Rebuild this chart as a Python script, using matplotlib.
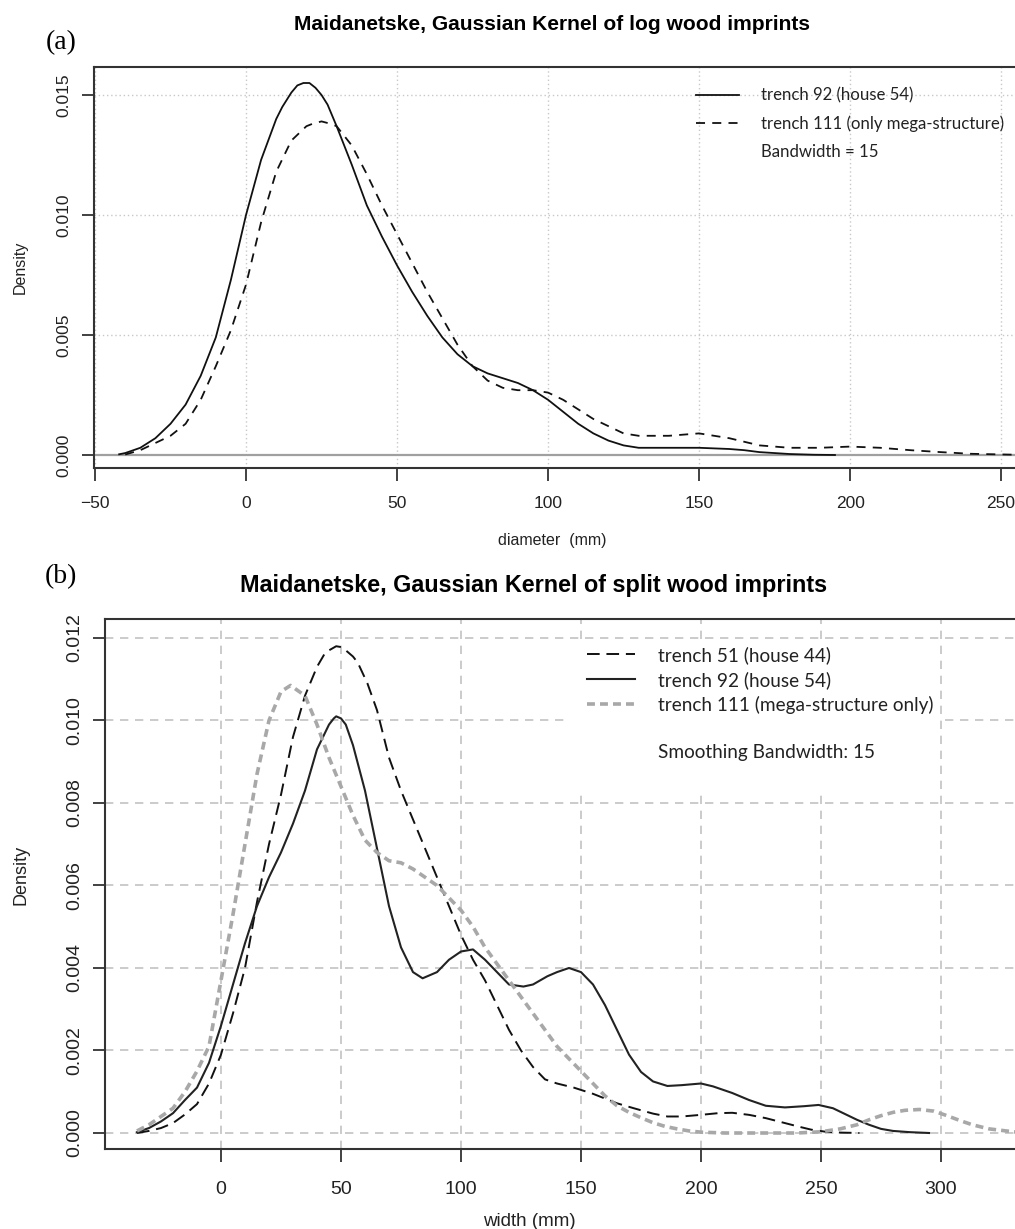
import matplotlib
matplotlib.use('Agg')
import matplotlib.pyplot as plt
from matplotlib import font_manager as fm
from matplotlib.lines import Line2D
from matplotlib.patches import Rectangle


def has_font(name):
    try:
        fm.findfont(name, fallback_to_default=False)
        return True
    except Exception:
        return False


NARROW = 'Liberation Sans Narrow' if has_font('Liberation Sans Narrow') else 'Liberation Sans'
SANS = 'Liberation Sans'
LEG = 'Lato'

# ---- data: panel (a) log wood imprints ----
log_x92 = [-42, -40, -35, -30, -25, -20, -15, -10, -5, 0, 5, 10, 12, 15, 17, 19, 21, 23, 25, 27,
           30, 35, 40, 45, 50, 55, 60, 65, 70, 75, 80, 85, 90, 95, 100, 105, 110, 115, 120, 125,
           130, 140, 150, 160, 165, 170, 180, 188, 195]
log_y92 = [0.00003, 0.00008, 0.0003, 0.0007, 0.0013, 0.0021, 0.0033, 0.0049, 0.0073, 0.0100,
           0.0123, 0.0140, 0.0145, 0.0151, 0.0154, 0.0155, 0.0155, 0.0153, 0.0150, 0.0146,
           0.0137, 0.0121, 0.0104, 0.0091, 0.0079, 0.0068, 0.0058, 0.0049, 0.0042, 0.0037,
           0.0034, 0.0032, 0.0030, 0.0027, 0.0023, 0.0018, 0.0013, 0.0009, 0.0006, 0.0004,
           0.0003, 0.0003, 0.0003, 0.00025, 0.0002, 0.00012, 0.00004, 0.00001, 0.0]

log_x111 = [-40, -35, -30, -25, -20, -15, -10, -5, 0, 5, 10, 15, 20, 22, 25, 28, 30, 35, 40, 45,
            50, 55, 60, 65, 70, 75, 80, 85, 90, 95, 100, 105, 110, 115, 120, 125, 130, 140, 150,
            160, 170, 180, 190, 200, 210, 220, 230, 240, 255]
log_y111 = [0.00002, 0.0002, 0.0005, 0.0008, 0.0013, 0.0023, 0.0037, 0.0052, 0.0071, 0.0097,
            0.0118, 0.0131, 0.0137, 0.0138, 0.0139, 0.0138, 0.0137, 0.0129, 0.0117, 0.0104,
            0.0092, 0.0080, 0.0068, 0.0057, 0.0046, 0.0037, 0.0031, 0.0028, 0.0027, 0.0027,
            0.0026, 0.0023, 0.0019, 0.0015, 0.0012, 0.0009, 0.0008, 0.0008, 0.0009, 0.0007,
            0.0004, 0.0003, 0.0003, 0.00035, 0.0003, 0.0002, 0.00012, 0.00005, 0.00001]

# ---- data: panel (b) split wood imprints ----
split_x51 = [-35, -30, -25, -20, -15, -10, -5, 0, 5, 10, 15, 20, 25, 30, 35, 40, 43, 45, 48, 50,
             52, 55, 57, 61, 65, 70, 75, 80, 85, 90, 95, 100, 105, 110, 115, 120, 125, 130, 135,
             140, 147, 155, 165, 172, 180, 186, 192, 200, 207, 213, 220, 227, 235, 241, 246,
             252, 258, 266]
split_y51 = [0.0, 0.00005, 0.00012, 0.00024, 0.00045, 0.0007, 0.0012, 0.0019, 0.0029, 0.0040,
             0.0056, 0.0070, 0.0082, 0.0096, 0.0106, 0.0113, 0.0116, 0.0117, 0.0118, 0.01178,
             0.0117, 0.01155, 0.0114, 0.0109, 0.01025, 0.0091, 0.0083, 0.0076, 0.0069, 0.0062,
             0.0055, 0.0048, 0.0042, 0.0037, 0.0031, 0.0025, 0.0020, 0.0016, 0.0013, 0.0012,
             0.0011, 0.00095, 0.00072, 0.0006, 0.00047, 0.0004, 0.0004, 0.00044, 0.00048,
             0.00049, 0.00044, 0.00036, 0.00024, 0.00015, 0.00008, 0.00003, 0.00001, 0.0]

split_x92 = [-35, -30, -25, -20, -15, -10, -5, 0, 5, 10, 15, 20, 25, 30, 35, 40, 45, 47, 48, 50,
             52, 55, 60, 65, 70, 75, 80, 84, 90, 95, 100, 105, 110, 115, 120, 126, 130, 136, 140,
             145, 150, 155, 160, 165, 170, 175, 180, 186, 192, 200, 205, 213, 220, 227, 235,
             243, 249, 255, 260, 265, 270, 275, 280, 287, 295]
split_y92 = [0.00002, 0.00012, 0.00028, 0.00048, 0.0008, 0.0011, 0.0017, 0.0026, 0.0036, 0.0046,
             0.0055, 0.0062, 0.0068, 0.0075, 0.0083, 0.0093, 0.0099, 0.01005, 0.0101, 0.01005,
             0.0099, 0.0094, 0.0083, 0.0069, 0.0055, 0.0045, 0.0039, 0.00375, 0.0039, 0.0042,
             0.0044, 0.00445, 0.0042, 0.0039, 0.0036, 0.00355, 0.0036, 0.0038, 0.0039, 0.0040,
             0.0039, 0.0036, 0.0031, 0.0025, 0.0019, 0.00148, 0.00125, 0.00114, 0.00116, 0.0012,
             0.00113, 0.00097, 0.0008, 0.00066, 0.00062, 0.00065, 0.00068, 0.0006, 0.00046,
             0.00032, 0.0002, 0.0001, 0.00005, 0.00002, 0.0]

split_x111 = [-35, -30, -25, -20, -15, -10, -5, 0, 5, 10, 15, 20, 25, 29, 35, 40, 45, 50, 55, 60,
              65, 70, 75, 80, 85, 90, 95, 100, 105, 110, 115, 120, 125, 130, 135, 140, 145, 150,
              155, 160, 165, 170, 175, 180, 185, 190, 195, 200, 210, 220, 230, 240, 250, 258,
              265, 270, 275, 280, 285, 291, 297, 302, 308, 313, 320, 330, 335]
split_y111 = [0.00005, 0.0002, 0.0004, 0.0006, 0.0010, 0.0015, 0.0021, 0.0037, 0.0053, 0.0070,
              0.0087, 0.0100, 0.0107, 0.01085, 0.0106, 0.0099, 0.0091, 0.0084, 0.0077, 0.0071,
              0.0068, 0.0066, 0.00655, 0.0064, 0.0062, 0.0060, 0.0057, 0.0054, 0.0050, 0.0045,
              0.0041, 0.0037, 0.0033, 0.0029, 0.0025, 0.0021, 0.0018, 0.0015, 0.0012, 0.0009,
              0.00066, 0.0005, 0.00037, 0.00025, 0.00016, 0.0001, 0.00005, 0.00002, 0.0, 0.0,
              0.0, 0.0, 0.00003, 0.0001, 0.0002, 0.00032, 0.00042, 0.0005, 0.00055, 0.00057,
              0.00053, 0.00043, 0.0003, 0.0002, 0.0001, 0.00003, 0.00001]

log_ticks_x = [-50, 0, 50, 100, 150, 200, 250]
log_ticks_y = [0.000, 0.005, 0.010, 0.015]
split_ticks_x = [0, 50, 100, 150, 200, 250, 300]
split_ticks_y = [0.000, 0.002, 0.004, 0.006, 0.008, 0.010, 0.012]

W, H = 1015, 1229
fig = plt.figure(figsize=(W / 100, H / 100), dpi=100)


def box(left, top, right, bottom):
    return [left / W, 1 - bottom / H, (right - left) / W, (bottom - top) / H]


def ftext(x, y, s, **kw):
    fig.text(x / W, 1 - y / H, s, **kw)


# ================= panel (a) =================
ax1 = fig.add_axes(box(94, 67, 1015, 468))
ax1.set_xlim(-50.33, 254.6)
ax1.set_ylim(-0.000542, 0.016167)
for v in log_ticks_x:
    ax1.axvline(v, color='#c8c8c8', lw=1.0, ls=(0, (1, 2)), zorder=0)
for v in log_ticks_y[1:]:
    ax1.axhline(v, color='#c8c8c8', lw=1.0, ls=(0, (1, 2)), zorder=0)
ax1.axhline(0, color='#a0a0a0', lw=1.6, zorder=1)
l1, = ax1.plot(log_x92, log_y92, color='#111111', lw=1.3)
l2, = ax1.plot(log_x111, log_y111, color='#111111', lw=1.3, ls=(0, (5, 4)))
ax1.set_xticks(log_ticks_x)
ax1.set_yticks(log_ticks_y)
ax1.set_xticklabels(['\u221250', '0', '50', '100', '150', '200', '250'])
ax1.set_yticklabels(['0.000', '0.005', '0.010', '0.015'], rotation=90, va='center')
ax1.tick_params(axis='both', direction='out', length=9, width=1.3, color='#333333',
                labelsize=12.5, labelcolor='#222222')
ax1.tick_params(axis='x', pad=11)
ax1.tick_params(axis='y', pad=7)
for lab in ax1.get_xticklabels() + ax1.get_yticklabels():
    lab.set_family([NARROW, 'DejaVu Sans'])
for s in ['top', 'left', 'bottom']:
    ax1.spines[s].set_color('#333333')
    ax1.spines[s].set_linewidth(1.5)
ax1.spines['right'].set_visible(False)

blank = Line2D([], [], color='none')
leg1 = ax1.legend([l1, l2, blank], ['trench 92 (house 54)', 'trench 111 (only mega-structure)',
                                    'Bandwidth = 15'],
                  loc='upper left', bbox_to_anchor=(683 / W, 1 - 74 / H),
                  bbox_transform=fig.transFigure, frameon=False,
                  prop={'family': LEG, 'size': 12.1}, handlelength=2.56, handletextpad=1.3,
                  labelspacing=0.72, borderpad=0.3)
for t in leg1.get_texts():
    t.set_color('#222222')

ftext(20, 267, 'Density', rotation=90, ha='center', va='center', fontsize=11.5,
      family=[SANS], color='#222222')
ftext(552, 540, 'diameter  (mm)', ha='center', va='center', fontsize=11.5,
      family=[NARROW], color='#222222')
ftext(552, 25, 'Maidanetske, Gaussian Kernel of log wood imprints', ha='center', va='center',
      fontsize=15.1 if NARROW == SANS else 16.5, fontweight='bold', family=[NARROW])
ftext(61, 43, '(a)', ha='center', va='center', fontsize=20, family=['Liberation Serif'])

# ================= panel (b) =================
ax2 = fig.add_axes(box(105, 619, 1015, 1149))
ax2.set_xlim(-48.33, 330.83)
ax2.set_ylim(-0.000388, 0.01246)
for v in split_ticks_x:
    ax2.axvline(v, color='#c2c2c2', lw=1.2, ls=(0, (5, 4)), zorder=0)
for v in split_ticks_y:
    ax2.axhline(v, color='#c2c2c2', lw=1.2, ls=(0, (5, 4)), zorder=0)
# white area behind the legend, hiding the grid there
ax2.add_patch(Rectangle((570 / W, 1 - 795 / H), 370 / W, 152 / H, transform=fig.transFigure,
                        facecolor='white', edgecolor='none', zorder=0.5))
m51, = ax2.plot(split_x51, split_y51, color='#111111', lw=1.4, ls=(0, (6.5, 3.5)), zorder=2)
m92, = ax2.plot(split_x92, split_y92, color='#222222', lw=1.5, zorder=2)
m111, = ax2.plot(split_x111, split_y111, color='#a8a8a8', lw=2.6, ls=(0, (2.2, 1.4)), zorder=2)
ax2.set_xticks(split_ticks_x)
ax2.set_yticks(split_ticks_y)
ax2.set_yticklabels(['%.3f' % v for v in split_ticks_y], rotation=90, va='center')
ax2.tick_params(axis='both', direction='out', length=9, width=1.3, color='#333333',
                labelsize=14, labelcolor='#222222')
ax2.tick_params(axis='x', pad=14)
ax2.tick_params(axis='y', pad=7)
for lab in ax2.get_xticklabels() + ax2.get_yticklabels():
    lab.set_family([SANS])
for s in ['top', 'left', 'bottom']:
    ax2.spines[s].set_color('#333333')
    ax2.spines[s].set_linewidth(1.5)
ax2.spines['right'].set_visible(False)

leg2 = ax2.legend([m51, m92, m111, blank, blank],
                  ['trench 51 (house 44)', 'trench 92 (house 54)',
                   'trench 111 (mega-structure only)', '', 'Smoothing Bandwidth: 15'],
                  loc='upper left', bbox_to_anchor=(572 / W, 1 - 631 / H),
                  bbox_transform=fig.transFigure, frameon=False,
                  prop={'family': LEG, 'size': 13.7}, handlelength=2.53, handletextpad=1.2,
                  labelspacing=0.36, borderpad=0.3)
for t in leg2.get_texts():
    t.set_color('#222222')

ftext(21, 875, 'Density', rotation=90, ha='center', va='center', fontsize=13,
      family=[SANS], color='#222222')
ftext(529, 1221, 'width (mm)', ha='center', va='center', fontsize=13.5,
      family=[SANS], color='#222222')
ftext(534, 585, 'Maidanetske, Gaussian Kernel of split wood imprints', ha='center', va='center',
      fontsize=16.8 if NARROW == SANS else 18.5, fontweight='bold', family=[NARROW])
ftext(61, 577, '(b)', ha='center', va='center', fontsize=20, family=['Liberation Serif'])

fig.savefig('out.png', dpi=100)
